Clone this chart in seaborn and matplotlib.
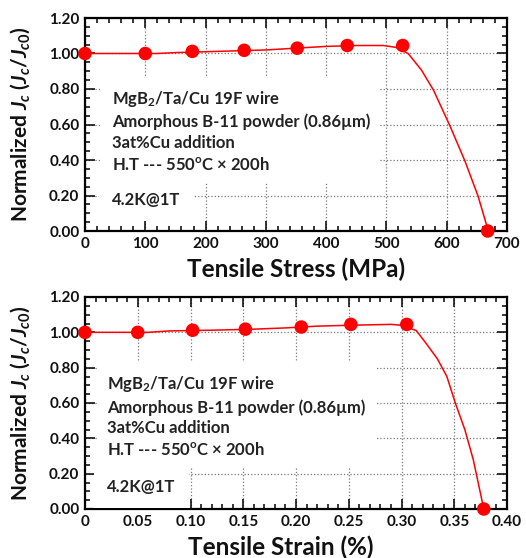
import matplotlib
matplotlib.use("Agg")
import matplotlib.pyplot as plt
import seaborn as sns
from matplotlib.ticker import MultipleLocator, FormatStrFormatter

# measured points
stress_pts = [0, 100, 178, 264, 352, 435, 527, 668]
strain_pts = [0, 0.05, 0.102, 0.152, 0.205, 0.252, 0.305, 0.378]
jc_pts = [1.0, 1.0, 1.012, 1.018, 1.03, 1.045, 1.045, 0.0]

# fitted curves
stress_curve = [0, 120, 150, 200, 250, 300, 350, 400, 450, 495, 515, 536, 558, 578, 605, 630, 652, 669]
jc_stress_curve = [1.0, 1.0, 1.005, 1.01, 1.015, 1.02, 1.03, 1.04, 1.045, 1.045, 1.035, 1.0,
                   0.907, 0.794, 0.595, 0.396, 0.197, 0.0]
strain_curve = [0, 0.06, 0.08, 0.12, 0.16, 0.19, 0.22, 0.25, 0.29, 0.30, 0.314, 0.323, 0.334,
                0.343, 0.351, 0.360, 0.368, 0.378]
jc_strain_curve = [1.0, 1.0, 1.008, 1.012, 1.018, 1.025, 1.035, 1.04, 1.045, 1.04, 1.01, 0.94,
                   0.85, 0.75, 0.60, 0.45, 0.28, 0.0]

info = ("MgB$_\\mathregular{2}$/Ta/Cu 19F wire\n"
        "Amorphous B-11 powder (0.86\u00b5m)\n"
        "3at%Cu addition\n"
        "H.T --- 550$^\\mathregular{o}$C \u00d7 200h")
cond = "4.2K@1T"

sns.set_theme(style="ticks")
plt.rcParams["font.family"] = ["Lato", "DejaVu Sans"]
plt.rcParams["font.weight"] = "bold"
plt.rcParams["mathtext.fontset"] = "custom"
plt.rcParams["mathtext.rm"] = "Lato:bold"
plt.rcParams["mathtext.it"] = "Lato:italic:bold"
plt.rcParams["mathtext.bf"] = "Lato:bold"

RED = "#ff0000"
W, H = 526, 558
fig = plt.figure(figsize=(W / 100, H / 100), dpi=100)
ax1 = fig.add_axes([85 / W, 1 - 231 / H, 422 / W, 213 / H])
ax2 = fig.add_axes([85 / W, 1 - 509 / H, 422 / W, 212 / H])


def style_axes(ax, xmax, xmajor, xminor, xfmt, xlabel, xlabel_x, txt_pos, cond_pos):
    ax.set_xlim(0, xmax)
    ax.set_ylim(0, 1.2)
    ax.xaxis.set_major_locator(MultipleLocator(xmajor))
    ax.xaxis.set_minor_locator(MultipleLocator(xminor))
    ax.yaxis.set_major_locator(MultipleLocator(0.2))
    ax.yaxis.set_minor_locator(MultipleLocator(0.05))
    ax.xaxis.set_major_formatter(xfmt)
    ax.yaxis.set_major_formatter(FormatStrFormatter("%.2f"))
    ax.grid(True, which="major", linestyle=":", color="#777777", linewidth=0.9)
    ax.tick_params(which="both", direction="in", top=True, right=True, width=1.1,
                   labelsize=11, pad=4, color="black", labelcolor="#111111")
    ax.tick_params(which="major", length=7)
    ax.tick_params(which="minor", length=3.5)
    for s in ax.spines.values():
        s.set_linewidth(1.6)
        s.set_color("black")
        s.set_zorder(3)
    ax.set_xlabel(xlabel, fontsize=17.5, fontweight="bold", color="#111111")
    ax.xaxis.set_label_coords(xlabel_x, -0.125)
    ax.set_ylabel("Normalized $J_c$ ($J_c$/$J_{c0}$)", fontsize=15, fontweight="bold",
                  color="#111111")
    ax.yaxis.set_label_coords(-0.125, 0.5)
    box = dict(boxstyle="square,pad=0.6", fc="white", ec="none")
    ax.text(txt_pos[0], txt_pos[1], info, transform=ax.transAxes, fontsize=12,
            fontweight="bold", va="center", ha="left", linespacing=1.35,
            color="#222222", bbox=box, zorder=4)
    ax.text(cond_pos[0], cond_pos[1], cond, transform=ax.transAxes, fontsize=12,
            fontweight="bold", va="center", ha="left", color="#222222",
            bbox=dict(boxstyle="square,pad=0.8", fc="white", ec="none"), zorder=4)


sns.lineplot(x=stress_curve, y=jc_stress_curve, ax=ax1, color=RED, linewidth=1.1,
             sort=False, estimator=None)
sns.scatterplot(x=stress_pts, y=jc_pts, ax=ax1, color=RED, s=95, edgecolor="none",
                zorder=5, clip_on=False)
style_axes(ax1, 700, 100, 20, FormatStrFormatter("%d"), "Tensile Stress (MPa)", 0.5,
           (0.064, 0.47), (0.064, 0.146))

sns.lineplot(x=strain_curve, y=jc_strain_curve, ax=ax2, color=RED, linewidth=1.1,
             sort=False, estimator=None)
sns.scatterplot(x=strain_pts, y=jc_pts, ax=ax2, color=RED, s=95, edgecolor="none",
                zorder=5, clip_on=False)
strain_fmt = matplotlib.ticker.FuncFormatter(lambda v, p: "0" if v == 0 else f"{v:.2f}")
style_axes(ax2, 0.4, 0.05, 0.01, strain_fmt, "Tensile Strain (%)", 0.465,
           (0.052, 0.437), (0.052, 0.103))

fig.savefig("out.png", dpi=100)
